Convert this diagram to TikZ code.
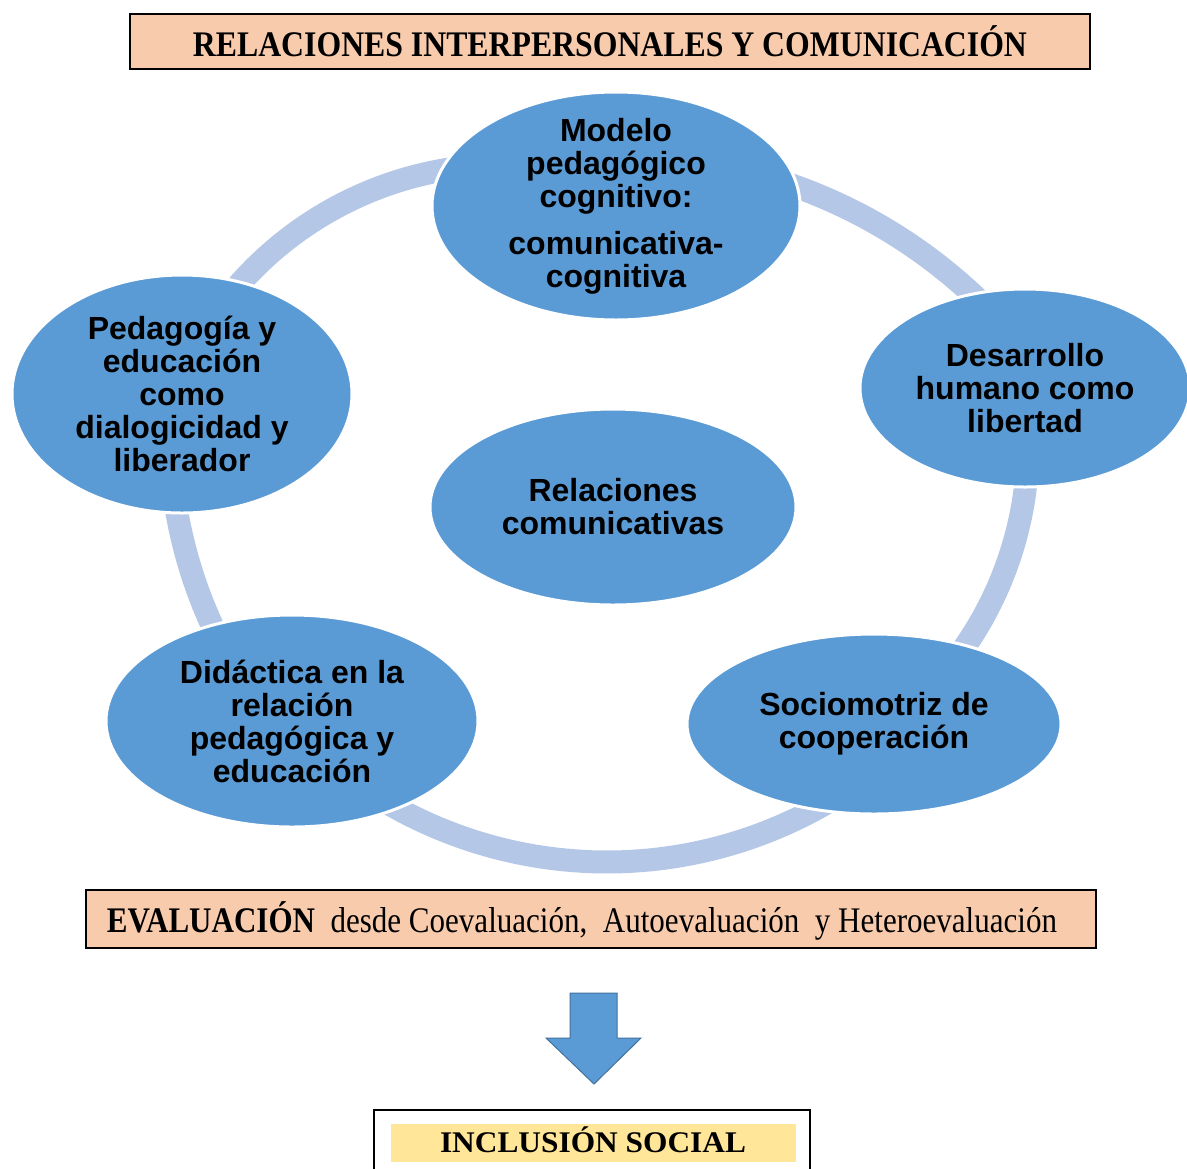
\documentclass[tikz,border=0pt]{standalone}
\usepackage{fontspec}
\usepackage{graphicx}
\setmainfont{Liberation Serif}
\newfontfamily\arialfont{Liberation Sans}
\usetikzlibrary{shapes.geometric}
\definecolor{blobfill}{HTML}{5B9BD5}
\definecolor{ringcol}{HTML}{B4C7E7}
\definecolor{peach}{HTML}{F8CBAD}
\definecolor{yellowbar}{HTML}{FFE699}
\definecolor{arrowline}{HTML}{41719C}
\tikzset{
  blob/.style={ellipse, fill=blobfill, draw=white, line width=1.5pt, inner sep=0pt},
  blobtext/.style={align=center, inner sep=0pt, text=black,
    font=\arialfont\bfseries\fontsize{16}{16.5}\selectfont},
  ringline/.style={draw=ringcol, line width=11.5pt},
  peachbox/.style={rectangle, draw=black, line width=0.8pt, fill=peach, inner sep=0pt},
  boxtext/.style={inner sep=0pt, anchor=base, text=black},
}
\begin{document}
\begin{tikzpicture}[x=0.5pt, y=-0.5pt]
\path[use as bounding box, clip] (0,0) rectangle (1187,1168);
\fill[white] (0,0) rectangle (1187,1168);

% title
\node[peachbox, minimum width=480pt, minimum height=27.5pt] (title) at (610,41.5) {};
\node[boxtext] (titletext) at (610,56)
  {\resizebox{417pt}{\height}{\fontsize{18}{20}\selectfont\bfseries RELACIONES INTERPERSONALES Y COMUNICACIÓN}};

% ring arcs (circular arcs, ends hidden under the ellipses)
\draw[ringline] plot[domain=218:265, samples=40, variable=\t]
  ({504.5+354.3*cos(\t)}, {519+354.3*sin(\t)});
\draw[ringline] plot[domain=286:317, samples=40, variable=\t]
  ({620.7+516.5*cos(\t)}, {672.4+516.5*sin(\t)});
\draw[ringline] plot[domain=3:37, samples=40, variable=\t]
  ({671.4+356.6*cos(\t)}, {444.1+356.6*sin(\t)});
\draw[ringline] plot[domain=58:122, samples=50, variable=\t]
  ({607+438*cos(\t)}, {424+438*sin(\t)});
\draw[ringline] plot[domain=152:174, samples=30, variable=\t]
  ({630.8+460.8*cos(\t)}, {433+460.8*sin(\t)});

% ellipses
\node[blob, minimum width=184pt, minimum height=114pt] (top) at (616,206) {};
\node[blob, minimum width=165pt, minimum height=99pt] (right) at (1025,388) {};
\node[blob, minimum width=170pt, minimum height=119pt] (left) at (182,394) {};
\node[blob, minimum width=183pt, minimum height=98pt] (center) at (613,507) {};
\node[blob, minimum width=186pt, minimum height=106pt] (botleft) at (292,721) {};
\node[blob, minimum width=187pt, minimum height=90pt] (botright) at (874,724) {};

\node[blobtext] (toptext) at (top) {Modelo\\pedagógico\\cognitivo:\\[7pt]comunicativa-\\cognitiva};
\node[blobtext] (righttext) at (right) {Desarrollo\\humano como\\libertad};
\node[blobtext] (lefttext) at (left) {Pedagogía y\\educación\\como\\dialogicidad y\\liberador};
\node[blobtext] (centertext) at (center) {Relaciones\\comunicativas};
\node[blobtext] (botlefttext) at (botleft) {Didáctica en la\\relación\\pedagógica y\\educación};
\node[blobtext] (botrighttext) at (botright) {Sociomotriz de\\cooperación};

% evaluation
\node[peachbox, minimum width=505pt, minimum height=29pt] (eval) at (591,919) {};
\node[boxtext] (evaltext) at (582,932)
  {\resizebox{475pt}{\height}{\fontsize{18}{20}\selectfont\textbf{EVALUACIÓN}\ \ desde Coevaluación,\ \ Autoevaluación\ \ y Heteroevaluación}};

% arrow
\fill[blobfill, draw=arrowline, line width=0.5pt]
  (570,993) -- (617,993) -- (617,1038) -- (641,1038) -- (594,1084) -- (546,1038) -- (570,1038) -- cycle;

% inclusion
\node[rectangle, draw=black, line width=0.8pt, fill=white, minimum width=218pt, minimum height=35pt, inner sep=0pt] (incl) at (592,1145) {};
\node[rectangle, fill=yellowbar, minimum width=202.5pt, minimum height=19pt, inner sep=0pt] (inclbar) at (593.5,1143) {};
\node[boxtext] (incltext) at (593,1152)
  {\resizebox{153pt}{\height}{\fontsize{15}{17}\selectfont\bfseries INCLUSIÓN SOCIAL}};
\end{tikzpicture}
\end{document}
